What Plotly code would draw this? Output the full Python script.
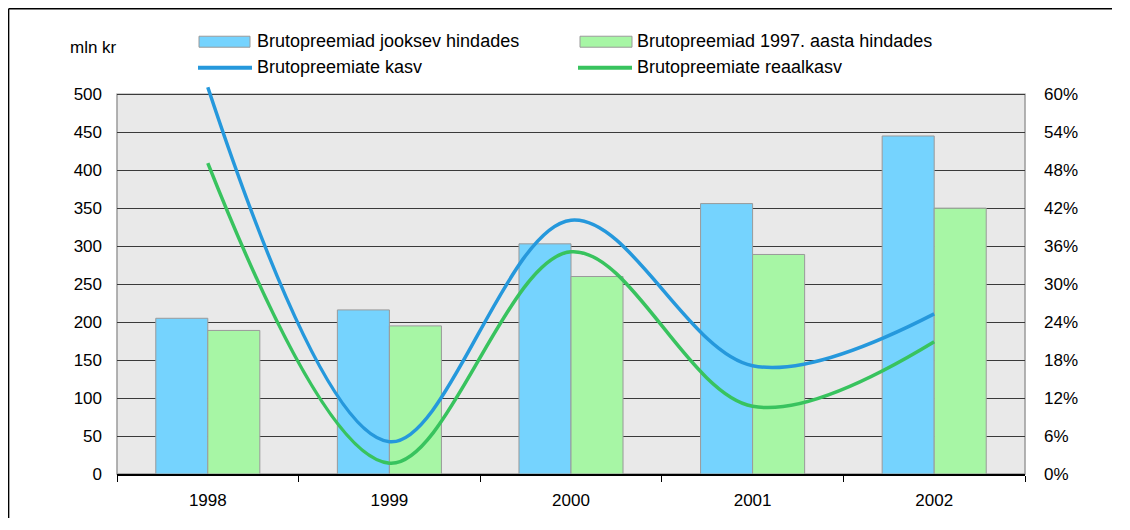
import plotly.graph_objects as go

years = ["1998", "1999", "2000", "2001", "2002"]
jooksev = [205, 216, 303, 356, 445]
hind1997 = [189, 195, 260, 289, 350]
kasv = [61.1, 5.1, 40.1, 17.1, 25.3]
reaalkasv = [49.1, 1.7, 35.1, 10.7, 20.9]

left_ticks = list(range(0, 501, 50))
right_ticks = list(range(0, 61, 6))

# figure a bit smaller than the window so the page gets no scrollbars
W, H = 1104, 510
OFF = 8  # page offset of the plot div
# axes run a bit above the last tick so the growth line is not clipped
YMAX, Y2MAX = 520, 62.4
PW = 908
PH = 380 * YMAX / 500
L = 117 - OFF
T = 474 - PH - OFF
R, B = W - L - PW, H - T - PH
FONT = "Liberation Sans, Arial, sans-serif"
TOP = 500 / YMAX  # paper y of the 500 line


def px(x):
    return (x - OFF - L) / PW


def py(y):
    return (474 - y) / PH


fig = go.Figure()
fig.add_trace(go.Bar(x=years, y=jooksev, name="Brutopreemiad jooksev hindades",
                     marker=dict(color="#75d3fe", line=dict(color="#9a9a9a", width=1))))
fig.add_trace(go.Bar(x=years, y=hind1997, name="Brutopreemiad 1997. aasta hindades",
                     marker=dict(color="#a7f6a5", line=dict(color="#9a9a9a", width=1))))
fig.add_trace(go.Scatter(x=years, y=kasv, name="Brutopreemiate kasv", yaxis="y2",
                         mode="lines", line=dict(color="#2598dc", width=3.5, shape="spline")))
fig.add_trace(go.Scatter(x=years, y=reaalkasv, name="Brutopreemiate reaalkasv", yaxis="y2",
                         mode="lines", line=dict(color="#38c35e", width=3.5, shape="spline")))

shapes = [
    # grey plot area up to the 500 line
    dict(type="rect", xref="paper", yref="paper", x0=0, x1=1, y0=0, y1=TOP,
         fillcolor="#e9e9e9", line=dict(width=0), layer="below"),
    dict(type="rect", xref="paper", yref="paper", x0=0, x1=1, y0=0, y1=TOP,
         fillcolor="rgba(0,0,0,0)", line=dict(color="#9a9a9a", width=1.5), layer="below"),
    # hand-made legend, two rows as in the original
    dict(type="rect", xref="paper", yref="paper", x0=px(199), x1=px(250), y0=py(47), y1=py(36),
         fillcolor="#75d3fe", line=dict(color="#9a9a9a", width=1)),
    dict(type="rect", xref="paper", yref="paper", x0=px(580), x1=px(632), y0=py(47), y1=py(36),
         fillcolor="#a7f6a5", line=dict(color="#9a9a9a", width=1)),
    dict(type="line", xref="paper", yref="paper", x0=px(198), x1=px(252), y0=py(67.5), y1=py(67.5),
         line=dict(color="#2598dc", width=4)),
    dict(type="line", xref="paper", yref="paper", x0=px(578), x1=px(632), y0=py(67.5), y1=py(67.5),
         line=dict(color="#38c35e", width=4)),
    # outer frame: only top and left edges are inside the picture
    dict(type="line", xref="paper", yref="paper", x0=px(8.6), x1=px(OFF + W), y0=py(8.6), y1=py(8.6),
         line=dict(color="black", width=1.5)),
    dict(type="line", xref="paper", yref="paper", x0=px(8.6), x1=px(8.6), y0=py(8.6), y1=py(OFF + H),
         line=dict(color="black", width=1.5)),
]
labels = [
    ("Brutopreemiad jooksev hindades", 255, 41),
    ("Brutopreemiad 1997. aasta hindades", 635, 41),
    ("Brutopreemiate kasv", 255, 67),
    ("Brutopreemiate reaalkasv", 635, 67),
]
annotations = [dict(text=t, x=px(x), y=py(y), xref="paper", yref="paper", showarrow=False,
                    xanchor="left", yanchor="middle", font=dict(size=18, color="black"))
               for t, x, y in labels]
annotations.append(dict(text="mln kr", x=px(93), y=py(47), xref="paper", yref="paper",
                        showarrow=False, xanchor="center", yanchor="middle",
                        font=dict(size=17, color="black")))

fig.update_layout(
    width=W, height=H,
    margin=dict(l=L, r=R, t=T, b=B, autoexpand=False),
    paper_bgcolor="white", plot_bgcolor="white",
    font=dict(family=FONT, size=17, color="black"),
    showlegend=False,
    barmode="group", bargap=0.427, bargroupgap=0,
    xaxis=dict(type="category", showline=True, linecolor="black", linewidth=1.5,
               ticks="outside", ticklen=6, tickcolor="black", tickson="boundaries",
               ticklabelstandoff=10, showgrid=False, automargin=False),
    yaxis=dict(range=[0, YMAX], tickvals=left_ticks, showline=False,
               gridcolor="#3a3a3a", gridwidth=1, automargin=False,
               zeroline=False, ticks="", ticklabelstandoff=14),
    yaxis2=dict(range=[0, Y2MAX], tickvals=right_ticks, ticktext=[f"{v}%" for v in right_ticks],
                overlaying="y", side="right", showgrid=False, zeroline=False, automargin=False,
                ticks="", ticklabelstandoff=18),
    shapes=shapes,
    annotations=annotations,
)

fig.write_html("out.html")
